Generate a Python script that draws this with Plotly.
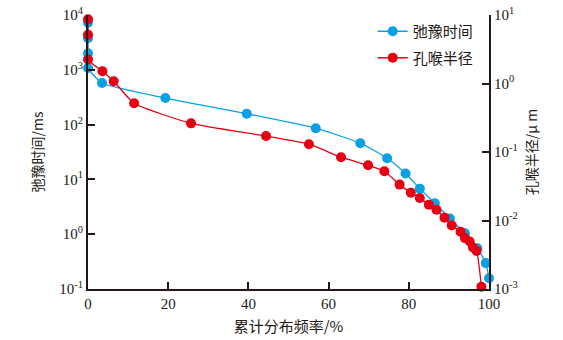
import plotly.graph_objects as go

# 弛豫时间 (left axis, ms)
t2_x = [0, 0, 0, 0, 3.5, 19.3, 39.6, 56.8, 67.9, 74.6, 79.2, 82.75, 86.5, 90.25, 94.0, 97.1, 99.2, 100]
t2_y = [7240, 3770, 2000, 1075, 573, 305, 158, 85.8, 45.8, 24.4, 12.8, 6.78, 3.66, 1.93, 1.04, 0.556, 0.297, 0.157]

# 孔喉半径 (right axis, μm)
r_x = [0, 0, 0, 3.6, 6.4, 11.5, 25.7, 44.4, 55.1, 63.1, 69.85, 73.9, 77.7, 80.5, 82.75, 85.0, 86.9, 88.9, 90.7, 92.9, 94.0, 95.2, 96.0, 96.9, 98.1]
r_y = [8.65, 5.14, 2.24, 1.51, 1.08, 0.514, 0.262, 0.171, 0.130, 0.084, 0.064, 0.0524, 0.0334, 0.0255, 0.0213, 0.0170, 0.01435, 0.0110, 0.00848, 0.00684, 0.00553, 0.00493, 0.00403, 0.0036, 0.00108]

x_ticks = [0, 20, 40, 60, 80, 100]
left_ticks = [0.1, 1, 10, 100, 1000, 10000]
left_labels = ["10<sup>-1</sup>", "10<sup>0</sup>", "10<sup>1</sup>", "10<sup>2</sup>", "10<sup>3</sup>", "10<sup>4</sup>"]
right_ticks = [0.001, 0.01, 0.1, 1, 10]
right_labels = ["10<sup>-3</sup>", "10<sup>-2</sup>", "10<sup>-1</sup>", "10<sup>0</sup>", "10<sup>1</sup>"]

BLUE = "#0AA0E4"
RED = "#E50012"
INK = "#231815"
serif = "Liberation Serif"
cjk = "Noto Sans CJK SC"

fig = go.Figure()
fig.add_trace(go.Scatter(
    x=t2_x, y=t2_y, name="弛豫时间", mode="lines+markers", legendgroup="a",
    line=dict(color=BLUE, width=1.3, shape="spline", smoothing=0.5),
    marker=dict(color=BLUE, size=10), cliponaxis=False, yaxis="y"))
fig.add_trace(go.Scatter(
    x=r_x, y=r_y, name="孔喉半径", mode="lines+markers", legendgroup="b",
    line=dict(color=RED, width=1.3, shape="spline", smoothing=0.5),
    marker=dict(color=RED, size=10), cliponaxis=False, yaxis="y2"))

axis_common = dict(showgrid=False, zeroline=False, showline=True, linecolor=INK,
                   linewidth=2, ticks="inside", ticklen=7, tickwidth=1.5, tickcolor=INK,
                   automargin=False,
                   tickfont=dict(family=serif, size=15, color=INK))

fig.update_layout(
    width=563, height=340,
    margin=dict(l=88, r=74, t=15, b=51),
    paper_bgcolor="white", plot_bgcolor="white",
    showlegend=True,
    legend=dict(x=0.71, y=1.0, xanchor="left", yanchor="top",
                font=dict(family=cjk, size=15, color=INK),
                bgcolor="rgba(0,0,0,0)", tracegroupgap=4, itemwidth=30),
    xaxis=dict(range=[0, 100], tickvals=x_ticks,
               title=dict(text="累计分布频率/%", font=dict(family=cjk, size=15, color=INK), standoff=10),
               **axis_common),
    yaxis=dict(type="log", range=[-1, 4], tickvals=left_ticks, ticktext=left_labels,
               title=dict(text="弛豫时间/ms", font=dict(family=cjk, size=14, color=INK), standoff=12),
               **axis_common),
    yaxis2=dict(type="log", range=[-3, 1], tickvals=right_ticks, ticktext=right_labels,
                overlaying="y", side="right", anchor="x",
                title=dict(text="孔喉半径/μ m", font=dict(family=cjk, size=14, color=INK), standoff=10),
                **axis_common),
)

fig.write_html("out.html")
